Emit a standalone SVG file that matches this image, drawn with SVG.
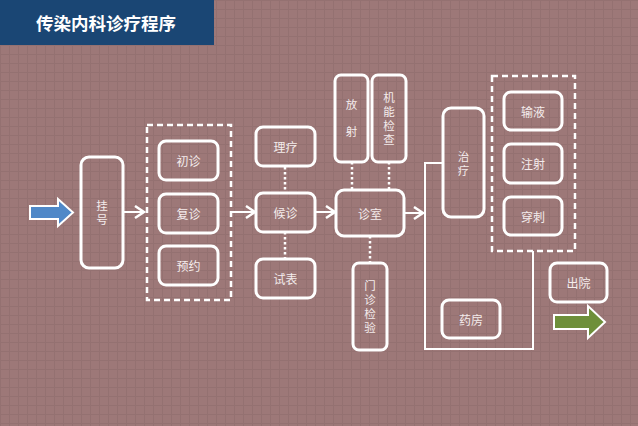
<svg xmlns="http://www.w3.org/2000/svg" width="638" height="426" viewBox="0 0 638 426">
<defs>
<pattern id="grid" width="9" height="9" patternUnits="userSpaceOnUse">
<rect width="9" height="9" fill="#9d7878"/>
<path d="M0,0.5 H9 M0.5,0 V9" stroke="#947171" stroke-width="1" fill="none"/>
</pattern>
<marker id="arr" markerUnits="userSpaceOnUse" markerWidth="14" markerHeight="16" refX="10" refY="7" orient="auto">
<path d="M1,1 L10,7 L1,13" fill="none" stroke="#ffffff" stroke-width="2.5" stroke-linejoin="miter"/>
</marker>
</defs>
<style>
.box{fill:none;stroke:#ffffff;stroke-width:3}
.dash{fill:none;stroke:#ffffff;stroke-width:2.5;stroke-dasharray:6 4}
.dot{fill:none;stroke:#ffffff;stroke-width:2.5;stroke-dasharray:2.5 2.5}
.ln{fill:none;stroke:#ffffff;stroke-width:2}
.t{font-family:"Noto Sans CJK SC","Noto Sans",sans-serif;font-size:12px;fill:#f4ecec;text-anchor:middle;dominant-baseline:central}
.v{font-family:"Noto Sans CJK SC","Noto Sans",sans-serif;font-size:11.5px;fill:#f4ecec;text-anchor:middle;dominant-baseline:central;writing-mode:vertical-rl;text-orientation:upright}
</style>
<rect width="638" height="426" fill="url(#grid)"/>
<g id="title">
<rect x="0" y="0" width="214" height="45" fill="#1a4674"/>
<text x="106" y="22" style="font-family:'Noto Sans CJK SC',sans-serif;font-size:17.5px;font-weight:bold;fill:#ffffff;text-anchor:middle;dominant-baseline:central">传染内科诊疗程序</text>
</g>
<g id="connectors">
<line class="ln" x1="123" y1="212" x2="144" y2="212" marker-end="url(#arr)"/>
<line class="ln" x1="231" y1="212" x2="255" y2="212" marker-end="url(#arr)"/>
<line class="ln" x1="315" y1="212" x2="335" y2="212" marker-end="url(#arr)"/>
<line class="ln" x1="404" y1="213" x2="423" y2="213" marker-end="url(#arr)"/>
<line class="dot" x1="285" y1="167" x2="285" y2="193"/>
<line class="dot" x1="285" y1="232" x2="285" y2="259"/>
<line class="dot" x1="352" y1="162" x2="352" y2="190"/>
<line class="dot" x1="389" y1="162" x2="389" y2="190"/>
<line class="dot" x1="370" y1="236" x2="370" y2="263"/>
<polyline class="ln" points="443,163 425,163 425,349 533,349 533,251"/>
</g>
<g id="start-arrow">
<path d="M30,206 H58 V199 L73,212.5 L58,226 V219 H30 Z" fill="#4f88c8" stroke="#ffffff" stroke-width="2"/>
</g>
<g id="guahao">
<rect class="box" x="81" y="157" width="42" height="111" rx="8"/>
<text class="v" x="102" y="214" letter-spacing="2.5">挂号</text>
</g>
<g id="group1">
<rect class="dash" x="147" y="125" width="84" height="175"/>
</g>
<g id="chuzhen">
<rect class="box" x="159" y="141" width="59" height="39" rx="7"/>
<text class="t" x="188.5" y="160.5">初诊</text>
</g>
<g id="fuzhen">
<rect class="box" x="159" y="194" width="59" height="39" rx="7"/>
<text class="t" x="188.5" y="213.5">复诊</text>
</g>
<g id="yuyue">
<rect class="box" x="159" y="246" width="59" height="39" rx="7"/>
<text class="t" x="188.5" y="265.5">预约</text>
</g>
<g id="liliao">
<rect class="box" x="256" y="127" width="59" height="39" rx="7"/>
<text class="t" x="285.5" y="146.5">理疗</text>
</g>
<g id="houzhen">
<rect class="box" x="256" y="193" width="59" height="39" rx="7"/>
<text class="t" x="285.5" y="212.5">候诊</text>
</g>
<g id="shibiao">
<rect class="box" x="256" y="259" width="59" height="39" rx="7"/>
<text class="t" x="285.5" y="278.5">试表</text>
</g>
<g id="fangshe">
<rect class="box" x="335" y="75" width="33" height="87" rx="6"/>
<text class="v" x="351.5" y="126" letter-spacing="15.5">放射</text>
</g>
<g id="jineng">
<rect class="box" x="372" y="75" width="34" height="87" rx="6"/>
<text class="v" x="389" y="119.5" letter-spacing="2.5">机能检查</text>
</g>
<g id="zhenshi">
<rect class="box" x="336" y="190" width="68" height="46" rx="8"/>
<text class="t" x="370" y="213">诊室</text>
</g>
<g id="menzhen">
<rect class="box" x="353" y="263" width="34" height="87" rx="6"/>
<text class="v" x="370" y="307.5" letter-spacing="2.5">门诊检验</text>
</g>
<g id="zhiliao">
<rect class="box" x="443" y="108" width="41" height="109" rx="8"/>
<text class="v" x="463.5" y="165" letter-spacing="2.5">治疗</text>
</g>
<g id="group2">
<rect class="dash" x="492" y="76" width="83" height="175"/>
</g>
<g id="shuye">
<rect class="box" x="504" y="92" width="58" height="38" rx="7"/>
<text class="t" x="533" y="111">输液</text>
</g>
<g id="zhushe">
<rect class="box" x="504" y="144" width="58" height="39" rx="7"/>
<text class="t" x="533" y="163.5">注射</text>
</g>
<g id="chuanci">
<rect class="box" x="504" y="197" width="58" height="38" rx="7"/>
<text class="t" x="533" y="216">穿刺</text>
</g>
<g id="yaofang">
<rect class="box" x="442" y="300" width="58" height="38" rx="7"/>
<text class="t" x="471" y="319">药房</text>
</g>
<g id="chuyuan">
<rect class="box" x="550" y="263" width="57" height="39" rx="7"/>
<text class="t" x="578.5" y="282.5">出院</text>
</g>
<g id="end-arrow">
<path d="M554,315 H588 V306 L605,322 L588,338 V329 H554 Z" fill="#6e8f3a" stroke="#ffffff" stroke-width="2"/>
</g>
</svg>
